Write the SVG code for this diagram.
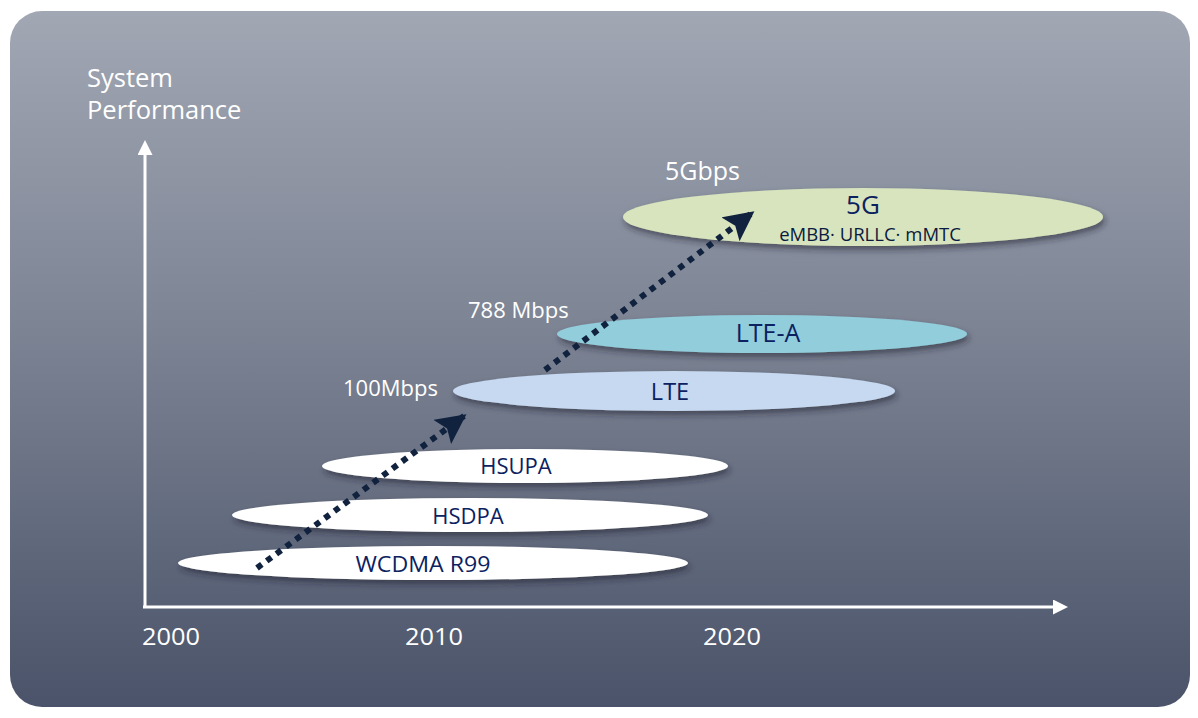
<svg xmlns="http://www.w3.org/2000/svg" width="1198" height="718" viewBox="0 0 1198 718">
<defs>
<linearGradient id="bg" x1="0" y1="0" x2="0" y2="1">
<stop offset="0" stop-color="#a1a7b3"/>
<stop offset="0.45" stop-color="#7d8494"/>
<stop offset="1" stop-color="#4a5369"/>
</linearGradient>
<filter id="sh" x="-10%" y="-50%" width="120%" height="220%">
<feDropShadow dx="2" dy="4" stdDeviation="3" flood-color="#1a2030" flood-opacity="0.55"/>
</filter>
<marker id="ah" viewBox="0 0 10 10" refX="9" refY="5" markerWidth="5" markerHeight="5" orient="auto" markerUnits="strokeWidth">
<path d="M0,0 L10,5 L0,10 L2,5 z" fill="#10223e"/>
</marker>
<marker id="wa" viewBox="0 0 10 10" refX="2" refY="5" markerWidth="5" markerHeight="5" orient="auto" markerUnits="strokeWidth">
<path d="M0,0 L10,5 L0,10 z" fill="#ffffff"/>
</marker>
</defs>
<style>
.lbl{font-family:"Open Sans","Liberation Sans",sans-serif;fill:#ffffff}
.yr{font-family:"Open Sans","Liberation Sans",sans-serif;fill:#ffffff;font-size:24px}
.nt{font-family:"Open Sans","Liberation Sans",sans-serif;fill:#0b2160;text-anchor:middle}
.axis{stroke:#ffffff;stroke-width:3;fill:none}
.dots{stroke:#10223e;stroke-width:6;stroke-dasharray:6 6;fill:none}
</style>
<rect x="10" y="11" width="1180" height="696" rx="32" fill="url(#bg)"/>
<g id="axes">
<path class="axis" d="M145,607 V152" marker-end="url(#wa)"/>
<path class="axis" d="M143,607 H1056" marker-end="url(#wa)"/>
<text class="lbl" x="87" y="87" font-size="25.5">System</text>
<text class="lbl" x="87" y="119" font-size="25.5">Performance</text>
<text class="yr" x="142" y="645" textLength="58" lengthAdjust="spacingAndGlyphs">2000</text>
<text class="yr" x="405" y="645" textLength="58" lengthAdjust="spacingAndGlyphs">2010</text>
<text class="yr" x="703" y="645" textLength="58" lengthAdjust="spacingAndGlyphs">2020</text>
</g>
<g id="n-wcdma">
<ellipse cx="433" cy="563" rx="255" ry="17" fill="#ffffff" filter="url(#sh)"/>
<text class="nt" x="423" y="572" font-size="22" textLength="135" lengthAdjust="spacingAndGlyphs">WCDMA R99</text>
</g>
<g id="n-hsdpa">
<ellipse cx="470" cy="515" rx="238" ry="17" fill="#ffffff" filter="url(#sh)"/>
<text class="nt" x="468" y="524" font-size="22">HSDPA</text>
</g>
<g id="n-hsupa">
<ellipse cx="525" cy="466" rx="203" ry="17" fill="#ffffff" filter="url(#sh)"/>
<text class="nt" x="516" y="474" font-size="22">HSUPA</text>
</g>
<g id="n-lte">
<ellipse cx="674" cy="391" rx="221" ry="20" fill="#c6d9f1" filter="url(#sh)"/>
<text class="nt" x="670" y="400" font-size="23.5">LTE</text>
<text class="lbl" x="343" y="396" font-size="22">100Mbps</text>
</g>
<g id="n-ltea">
<ellipse cx="762" cy="334" rx="205" ry="19" fill="#92cddc" filter="url(#sh)"/>
<text class="nt" x="768" y="342" font-size="25">LTE-A</text>
<text class="lbl" x="468" y="318" font-size="22">788 Mbps</text>
</g>
<g id="n-5g">
<ellipse cx="863" cy="217" rx="240" ry="29" fill="#d7e4bd" filter="url(#sh)"/>
<text class="nt" x="863" y="214" font-size="26">5G</text>
<text class="nt" x="870" y="241" font-size="18.5" style="fill:#0b1a40">eMBB· URLLC· mMTC</text>
<text class="lbl" x="665" y="180" font-size="25">5Gbps</text>
</g>
<g id="connectors">
<path class="dots" d="M257,568 L464,416" marker-end="url(#ah)"/>
<path class="dots" d="M545,370 L752,213" marker-end="url(#ah)"/>
</g>
</svg>
